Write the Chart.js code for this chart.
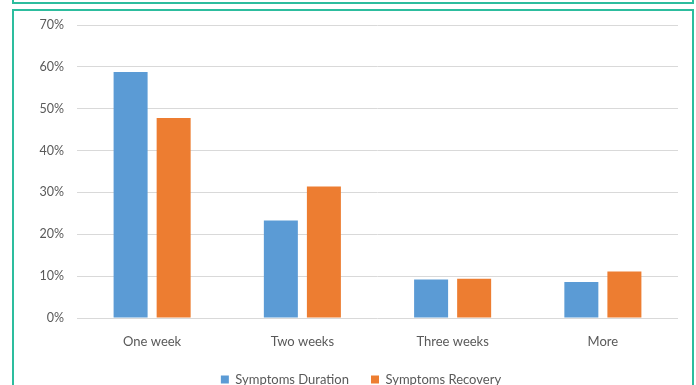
<!DOCTYPE html>
<html>
<head>
<meta charset="utf-8">
<script src="https://cdn.jsdelivr.net/npm/chart.js@4/dist/chart.umd.min.js"></script>
<style>
  html, body { margin: 0; padding: 0; background: #ffffff; overflow: hidden; }
  #wrap { position: relative; width: 696px; height: 385px; }
  .frame { position: absolute; box-sizing: border-box; border: 2px solid #2dbd9e; }
  #frameTop { left: 12px; top: -20px; width: 682px; height: 24px; }
  #frameMain { left: 12px; top: 9px; width: 682px; height: 400px; }
  canvas { position: absolute; left: 0; top: 0; }
</style>
</head>
<body>
<div id="wrap">
  <div class="frame" id="frameTop"></div>
  <div class="frame" id="frameMain"></div>
  <canvas id="c" width="696" height="385"></canvas>
</div>
<script>
// Share of respondents by period (percent)
const categories = ["One week", "Two weeks", "Three weeks", "More"];
const durationValues = [58.8, 23.3, 9.2, 8.6];
const recoveryValues = [47.8, 31.4, 9.4, 11.1];
const yTicks = [0, 10, 20, 30, 40, 50, 60, 70];

const textColor = "#595959";
const fontFamily = "Lato, 'Open Sans', sans-serif";

// Nudge the legend to the right so it sits under the middle of the frame
const legendShift = {
  id: "legendShift",
  afterLayout(chart) {
    if (chart.legend) {
      chart.legend.left += 22;
      chart.legend.right += 22;
    }
  }
};

new Chart(document.getElementById("c"), {
  type: "bar",
  data: {
    labels: categories,
    datasets: [
      {
        label: "Symptoms Duration",
        data: durationValues,
        backgroundColor: "#5b9bd5",
        categoryPercentage: 0.573,
        barPercentage: 0.79
      },
      {
        label: "Symptoms Recovery",
        data: recoveryValues,
        backgroundColor: "#ed7d31",
        categoryPercentage: 0.573,
        barPercentage: 0.79
      }
    ]
  },
  plugins: [legendShift],
  options: {
    responsive: false,
    animation: false,
    layout: { padding: { left: 0, right: 18, top: 25, bottom: 0 } },
    plugins: {
      tooltip: { enabled: false },
      legend: {
        position: "bottom",
        maxHeight: 34,
        labels: {
          boxWidth: 8,
          boxHeight: 8,
          padding: 22,
          color: textColor,
          font: { family: fontFamily, size: 13 },
          generateLabels: (chart) => {
            const items = Chart.defaults.plugins.legend.labels.generateLabels(chart);
            items.forEach(it => { it.lineWidth = 0; });
            return items;
          }
        }
      }
    },
    scales: {
      x: {
        grid: { display: false, drawTicks: false },
        border: { display: false },
        afterFit: (scale) => { scale.height = 33; },
        ticks: {
          color: textColor,
          padding: 16,
          font: { family: fontFamily, size: 13 }
        }
      },
      y: {
        min: 0,
        max: 70,
        afterFit: (scale) => { scale.width = 77; },
        afterBuildTicks: (scale) => { scale.ticks = yTicks.map(v => ({ value: v })); },
        grid: { color: "#d9d9d9", drawTicks: false, lineWidth: 1 },
        border: { display: false },
        ticks: {
          color: textColor,
          padding: 13,
          font: { family: fontFamily, size: 12.5 },
          callback: (v) => v + "%"
        }
      }
    }
  }
});
</script>
</body>
</html>
